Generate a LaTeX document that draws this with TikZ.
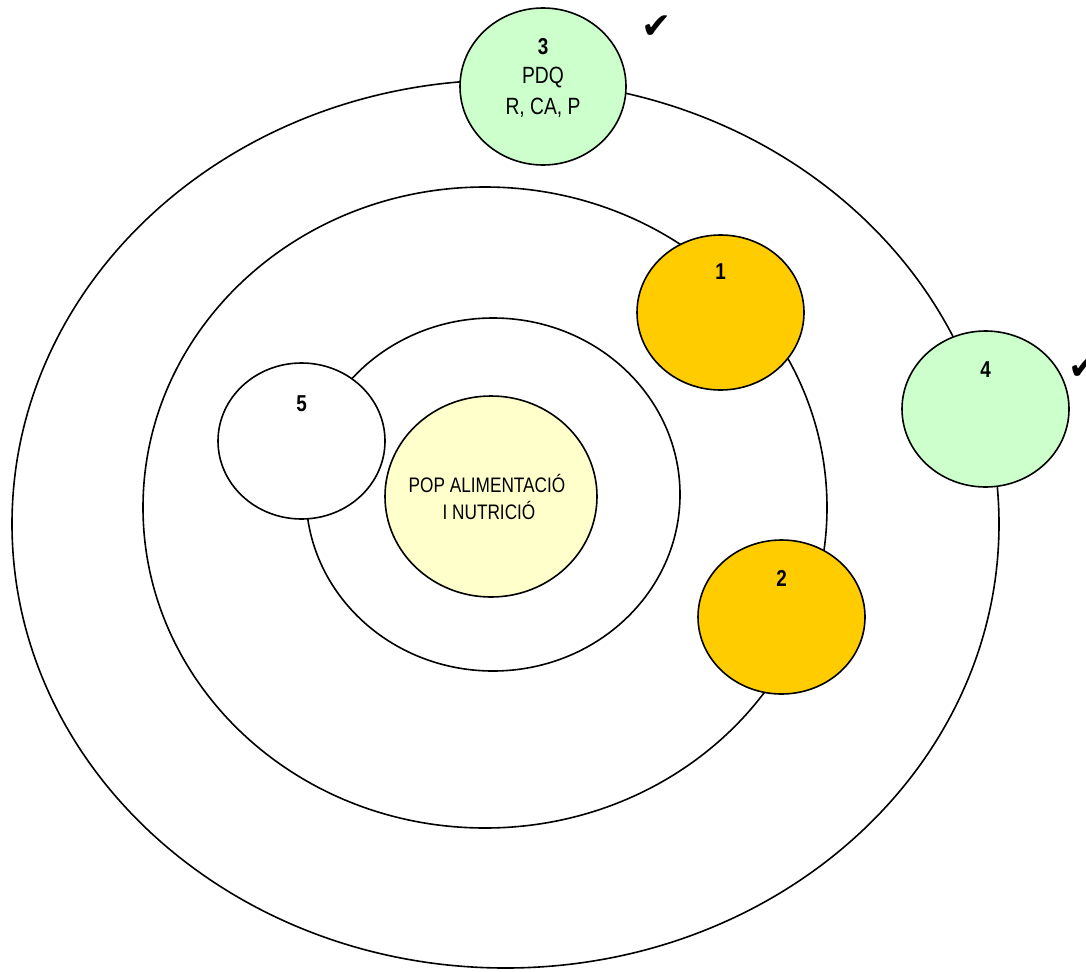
\documentclass[tikz,border=0pt]{standalone}
\usepackage{fontspec}
\setmainfont[FakeStretch=0.82]{Liberation Sans}
\newfontfamily\symfont{DejaVu Sans}
\usetikzlibrary{shapes.geometric}
\definecolor{lgreen}{HTML}{CCFFCC}
\definecolor{gold}{HTML}{FFCC00}
\definecolor{lyellow}{HTML}{FFFFCC}
\tikzset{
  ring/.style={draw=black, line width=1.6pt, ellipse, inner sep=0pt},
  bubble/.style={ring, fill=white},
  lbl/.style={inner sep=0pt, font=\fontsize{23.5}{28}\selectfont},
  numlbl/.style={inner sep=0pt, font=\fontsize{23}{28}\selectfont\bfseries},
  corelbl/.style={inner sep=0pt, font=\fontsize{21}{25}\selectfont},
  tick/.style={inner sep=0pt, font=\symfont\fontsize{36}{40}\selectfont}
}
\begin{document}
\begin{tikzpicture}[x=1pt,y=-1pt]
\useasboundingbox (0,0) rectangle (1086,971);
% rings
\node[ring, minimum width=987pt, minimum height=888pt] (outer) at (505.5,524) {};
\node[ring, minimum width=684pt, minimum height=641pt] (middle) at (485,507.5) {};
\node[ring, minimum width=374pt, minimum height=353pt] (inner) at (493,494.5) {};
% bubbles
\node[bubble, fill=lyellow, minimum width=212pt, minimum height=201pt] (core) at (491,496.5) {};
\node[bubble, minimum width=167pt, minimum height=156pt] (b5) at (301.5,441) {};
\node[bubble, fill=lgreen, minimum width=166pt, minimum height=157pt] (b3) at (543,86.5) {};
\node[bubble, fill=gold, minimum width=167pt, minimum height=155pt] (b1) at (720.5,312.5) {};
\node[bubble, fill=gold, minimum width=167pt, minimum height=154pt] (b2) at (781.5,617) {};
\node[bubble, fill=lgreen, minimum width=167pt, minimum height=156pt] (b4) at (985.5,409) {};
% texts
\node[numlbl] (t3) at (543,47) {3};
\node[lbl] (t3a) at (543,78) {PDQ};
\node[lbl] (t3b) at (543,108) {R, CA, P};
\node[numlbl] (t1) at (720.5,272) {1};
\node[numlbl] (t2) at (781.5,578) {2};
\node[numlbl] (t4) at (985.5,370) {4};
\node[numlbl] (t5) at (301.5,404) {5};
\node[corelbl] (tc1) at (487,483) {POP ALIMENTACIÓ};
\node[corelbl] (tc2) at (489,510) {I NUTRICIÓ};
% ticks
\node[tick] (k1) at (657,27) {✔};
\node[tick] (k2) at (1084,368) {✔};
\end{tikzpicture}
\end{document}
